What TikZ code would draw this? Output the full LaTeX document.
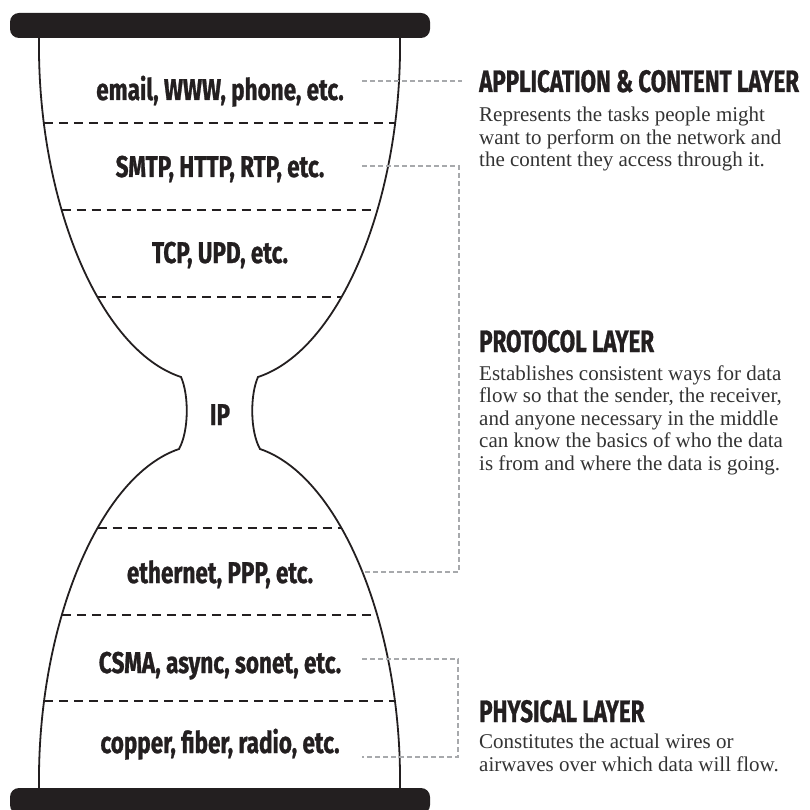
\documentclass[tikz,border=0pt]{standalone}
\usepackage{fontspec}
\setmainfont{Liberation Serif}
\newfontfamily\condfont[FakeStretch=0.75, FakeBold=0.9]{Fira Sans}
\newfontfamily\headfont[FakeStretch=0.72, FakeBold=0.9]{Fira Sans}
\usetikzlibrary{positioning, calc, intersections}

\definecolor{inkblack}{HTML}{231F20}
\definecolor{linkgray}{HTML}{A7A9AC}
\definecolor{bodygray}{HTML}{333333}

\tikzset{
  glassline/.style={draw=inkblack, line width=1.8pt},
  bar/.style={fill=inkblack, rounded corners=9pt},
  sepline/.style={draw=inkblack, line width=1.8pt, dash pattern=on 9pt off 6pt},
  link/.style={draw=linkgray, line width=1.2pt, dash pattern=on 5pt off 3pt},
  layerlbl/.style={font=\condfont\bfseries\fontsize{30}{33}\selectfont, text=inkblack, anchor=base, inner sep=0pt},
  headlbl/.style={font=\headfont\bfseries\fontsize{31}{34}\selectfont, text=inkblack, anchor=base west, inner sep=0pt},
  bodytxt/.style={font=\fontsize{21}{22.5}\selectfont, text=bodygray, anchor=base west, align=left, inner sep=0pt},
}

\begin{document}
\begin{tikzpicture}[x=1pt, y=-1pt]
    \useasboundingbox (0,0) rectangle (809,810);

    % Sanduhr
    \fill[bar] (10,13) rectangle (430,38);
    \fill[bar] (10,788) rectangle (430,814);
    \path[glassline, name path=glass]
        (400,38) .. controls (402,200) and (340,350) .. (258,377)
                 .. controls (250,395) and (250,431) .. (260,449)
                 .. controls (340,476) and (402,626) .. (400,788)
        (39,38) .. controls (37,200) and (99,350) .. (181,377)
                .. controls (189,395) and (189,431) .. (179,449)
                .. controls (99,476) and (37,626) .. (39,788);

    % Trennlinien
    \foreach \yy in {123,210,297,528,615,701} {
        \path[name path=cut] (0,\yy) -- (440,\yy);
        \draw[sepline, name intersections={of=glass and cut, by={sa,sb}}] (sb) -- (sa);
    }

    % Schichten
    \node[layerlbl] (email) at (220,100) {email, WWW, phone, etc.};
    \node[layerlbl] (smtp) at (220,177) {SMTP, HTTP, RTP, etc.};
    \node[layerlbl] (tcp) at (220,263) {TCP, UPD, etc.};
    \node[layerlbl] (ip) at (220,425) {IP};
    \node[layerlbl] (ether) at (220,583) {ethernet, PPP, etc.};
    \node[layerlbl] (csma) at (220,673) {CSMA, async, sonet, etc.};
    \node[layerlbl] (copper) at (220,753) {copper, fiber, radio, etc.};

    % Beschreibungen (Anker = Grundlinie der letzten Zeile)
    \node[headlbl] (apphead) at (479,92) {APPLICATION \& CONTENT LAYER};
    \node[bodytxt] (appbody) at (479,167) {Represents the tasks people might\\want to perform on the network and\\the content they access through it.};
    \node[headlbl] (protohead) at (479,352) {PROTOCOL LAYER};
    \node[bodytxt] (protobody) at (479,470) {Establishes consistent ways for data\\flow so that the sender, the receiver,\\and anyone necessary in the middle\\can know the basics of who the data\\is from and where the data is going.};
    \node[headlbl] (physhead) at (479,722) {PHYSICAL LAYER};
    \node[bodytxt] (physbody) at (479,771) {Constitutes the actual wires or\\airwaves over which data will flow.};

    % Verbindungen
    \coordinate (emailR) at (362,81);
    \coordinate (appL) at (462,81);
    \draw[link] (emailR) -- (appL);

    \coordinate (smtpR) at (362,166);
    \coordinate (protoTop) at (459,166);
    \coordinate (protoBot) at (459,572);
    \coordinate (etherR) at (362,572);
    \draw[link] (smtpR) -- (protoTop) -- (protoBot) -- (etherR);

    \coordinate (csmaR) at (362,659);
    \coordinate (physTop) at (458,659);
    \coordinate (physBot) at (458,757);
    \coordinate (copperR) at (362,757);
    \draw[link] (csmaR) -- (physTop) -- (physBot) -- (copperR);
\end{tikzpicture}
\end{document}
